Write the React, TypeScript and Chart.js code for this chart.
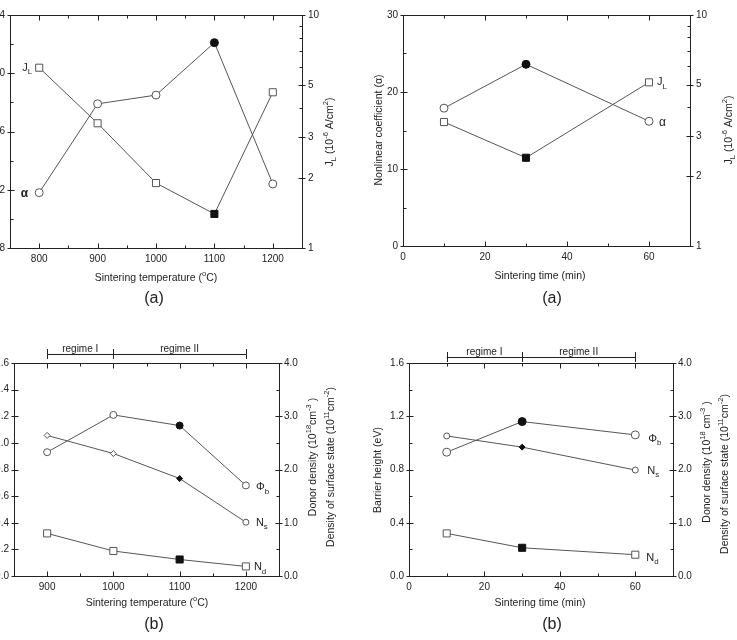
import React, { useEffect, useRef } from 'react';
import { Chart, registerables } from 'chart.js';

Chart.register(...registerables);

const FONT = '"Liberation Sans", Arial, Helvetica, sans-serif';
const INK = '#222';
const LINE = '#555';

// ---- (a) sintering temperature: nonlinear coefficient and leakage current
const TEMP_A = [800, 900, 1000, 1100, 1200];
const ALPHA_TEMP = [11.8, 17.9, 18.5, 22.1, 12.4];
const JL_TEMP = [5.94, 3.43, 1.9, 1.4, 4.66];

// ---- (a) sintering time
const TIME_A = [10, 30, 60];
const ALPHA_TIME = [17.9, 23.6, 16.2];
const JL_TIME = [3.44, 2.41, 5.11];

// ---- (b) sintering temperature: barrier height, surface states, donors
const TEMP_B = [900, 1000, 1100, 1200];
const PHI_TEMP = [0.93, 1.21, 1.13, 0.68];
const NS_TEMP = [2.64, 2.3, 1.83, 1.01];
const ND_TEMP = [0.8, 0.47, 0.31, 0.18];

// ---- (b) sintering time
const TIME_B = [10, 30, 60];
const PHI_TIME = [0.93, 1.16, 1.06];
const NS_TIME = [2.63, 2.42, 1.99];
const ND_TIME = [0.8, 0.53, 0.4];

// ---- axis ticks
const TEMP_TICKS_A = [800, 900, 1000, 1100, 1200];
const TEMP_MINOR_A = [850, 950, 1050, 1150];
const TEMP_TICKS_B = [900, 1000, 1100, 1200];
const TEMP_MINOR_B = [950, 1050, 1150];
const TIME_TICKS = [0, 20, 40, 60];
const TIME_MINOR = [10, 30, 50];
const ALPHA_TICKS_TEMP = [8, 12, 16, 20, 24];
const ALPHA_MINOR_TEMP = [10, 14, 18, 22];
const ALPHA_TICKS_TIME = [0, 10, 20, 30];
const ALPHA_MINOR_TIME = [5, 15, 25];
const JL_TICKS = [1, 2, 3, 5, 10];
const JL_MINOR = [4, 6, 7, 8, 9];
const PHI_TICKS_TEMP = [0, 0.2, 0.4, 0.6, 0.8, 1.0, 1.2, 1.4, 1.6];
const PHI_TICKS_TIME = [0, 0.4, 0.8, 1.2, 1.6];
const PHI_MINOR_TIME = [0.2, 0.6, 1.0, 1.4];
const DENS_TICKS = [0, 1, 2, 3, 4];
const DENS_MINOR = [0.5, 1.5, 2.5, 3.5];

// regime boundaries
const REGIME_TEMP = [900, 1000, 1200];
const REGIME_TIME = [10, 30, 60];
const REGIME_NAMES = ['regime I', 'regime II'];

type Seg = [string, number?]; // 1 = superscript, -1 = subscript

function drawRich(
  ctx: CanvasRenderingContext2D,
  segs: Seg[],
  x: number,
  y: number,
  size: number,
  align: 'left' | 'center' | 'right' = 'center',
  rot = false,
  bold = false
) {
  ctx.save();
  ctx.translate(x, y);
  if (rot) ctx.rotate(-Math.PI / 2);
  const small = size * 0.72;
  const font = (s: number) => `${bold ? 'bold ' : ''}${s}px ${FONT}`;
  let w = 0;
  for (const [t, k] of segs) {
    ctx.font = font(k ? small : size);
    w += ctx.measureText(t).width;
  }
  let cx = align === 'center' ? -w / 2 : align === 'right' ? -w : 0;
  ctx.textAlign = 'left';
  ctx.textBaseline = 'alphabetic';
  ctx.fillStyle = INK;
  const base = size * 0.36;
  for (const [t, k] of segs) {
    ctx.font = font(k ? small : size);
    const dy = k === 1 ? -size * 0.42 : k === -1 ? size * 0.3 : 0;
    ctx.fillText(t, cx, base + dy);
    cx += ctx.measureText(t).width;
  }
  ctx.restore();
}

interface AxisSpec {
  type?: 'linear' | 'logarithmic';
  min: number;
  max: number;
  major: number[];
  minor: number[];
  fmt: (v: number) => string;
  pad: number;
}

interface LabelSpec {
  segs: Seg[];
  ds: number;
  i: number;
  dx: number;
  dy: number;
  align: 'left' | 'right';
  size: number;
  bold?: boolean;
}

interface TitleSpec {
  segs: Seg[];
  x: number;
  y: number;
  size: number;
  rot?: boolean;
}

interface PanelSpec {
  box: { x: number; y: number; w: number; h: number };
  area: { l: number; t: number; r: number; b: number };
  x: AxisSpec;
  y: AxisSpec;
  yR: AxisSpec;
  datasets: any[];
  labels: LabelSpec[];
  titles: TitleSpec[];
  regime?: { y: number; marks: number[] };
}

function series(
  xs: number[],
  ys: number[],
  axis: string,
  styles: string[],
  radius: number,
  filled: number
) {
  return {
    data: xs.map((x, i) => ({ x, y: ys[i] })),
    yAxisID: axis,
    showLine: true,
    borderColor: LINE,
    borderWidth: 1,
    tension: 0,
    pointStyle: styles,
    pointRadius: radius,
    pointBorderWidth: 1,
    pointBackgroundColor: xs.map((_, i) => (i === filled ? '#111' : '#fff')),
    pointBorderColor: xs.map((_, i) => (i === filled ? '#111' : LINE)),
  };
}

const fill = (n: number, s: string) => Array.from({ length: n }, () => s);
const f1 = (v: number) => v.toFixed(1);
const f0 = (v: number) => String(v);

const TS = 10.5; // axis title size
const CAP = 16; // caption size

const JL_TITLE: Seg[] = [['J'], ['L', -1], [' (10'], ['-6', 1], [' A/cm'], ['2', 1], [')']];
const TEMP_TITLE: Seg[] = [['Sintering temperature ('], ['o', 1], ['C)']];
const TIME_TITLE: Seg[] = [['Sintering time (min)']];

const PANELS: PanelSpec[] = [
  {
    box: { x: -40, y: 0, w: 410, h: 310 },
    area: { l: 10, t: 15, r: 302, b: 248 },
    x: { min: 750, max: 1250, major: TEMP_TICKS_A, minor: TEMP_MINOR_A, fmt: f0, pad: 5 },
    y: { min: 8, max: 24, major: ALPHA_TICKS_TEMP, minor: ALPHA_MINOR_TEMP, fmt: f0, pad: 5 },
    yR: { type: 'logarithmic', min: 1, max: 10, major: JL_TICKS, minor: JL_MINOR, fmt: f0, pad: 6 },
    datasets: [
      series(TEMP_A, ALPHA_TEMP, 'y', fill(5, 'circle'), 4, 3),
      series(TEMP_A, JL_TEMP, 'yR', fill(5, 'rect'), 5, 3),
    ],
    labels: [
      { segs: [['J'], ['L', -1]], ds: 1, i: 0, dx: -7, dy: -1, align: 'right', size: 11 },
      { segs: [['α']], ds: 0, i: 0, dx: -11, dy: 0, align: 'right', size: 12, bold: true },
    ],
    titles: [
      { segs: TEMP_TITLE, x: 156, y: 277, size: TS },
      { segs: [['(a)']], x: 154, y: 297, size: CAP },
      { segs: JL_TITLE, x: 329, y: 132, size: TS, rot: true },
    ],
  },
  {
    box: { x: 370, y: 0, w: 367, h: 310 },
    area: { l: 403, t: 15, r: 690, b: 246 },
    x: { min: 0, max: 70, major: TIME_TICKS, minor: TIME_MINOR, fmt: f0, pad: 5 },
    y: { min: 0, max: 30, major: ALPHA_TICKS_TIME, minor: ALPHA_MINOR_TIME, fmt: f0, pad: 5 },
    yR: { type: 'logarithmic', min: 1, max: 10, major: JL_TICKS, minor: JL_MINOR, fmt: f0, pad: 6 },
    datasets: [
      series(TIME_A, ALPHA_TIME, 'y', fill(3, 'circle'), 4, 1),
      series(TIME_A, JL_TIME, 'yR', fill(3, 'rect'), 5, 1),
    ],
    labels: [
      { segs: [['J'], ['L', -1]], ds: 1, i: 2, dx: 8, dy: -1, align: 'left', size: 11 },
      { segs: [['α']], ds: 0, i: 2, dx: 10, dy: 0, align: 'left', size: 12 },
    ],
    titles: [
      { segs: TIME_TITLE, x: 540, y: 275, size: TS },
      { segs: [['(a)']], x: 552, y: 297, size: CAP },
      { segs: [['Nonlinear coefficient (α)']], x: 378, y: 130, size: TS, rot: true },
      { segs: JL_TITLE, x: 728, y: 130, size: TS, rot: true },
    ],
  },
  {
    box: { x: -40, y: 310, w: 410, h: 330 },
    area: { l: 14, t: 363, r: 279, b: 576 },
    x: { min: 850, max: 1250, major: TEMP_TICKS_B, minor: TEMP_MINOR_B, fmt: f0, pad: 5 },
    y: { min: 0, max: 1.6, major: PHI_TICKS_TEMP, minor: [], fmt: f1, pad: 5 },
    yR: { min: 0, max: 4, major: DENS_TICKS, minor: DENS_MINOR, fmt: f1, pad: 5 },
    datasets: [
      series(TEMP_B, PHI_TEMP, 'y', fill(4, 'circle'), 3.5, 2),
      series(TEMP_B, NS_TEMP, 'yR', ['rectRot', 'rectRot', 'rectRot', 'circle'], 3, 2),
      series(TEMP_B, ND_TEMP, 'yR', fill(4, 'rect'), 5, 2),
    ],
    labels: [
      { segs: [['Φ'], ['b', -1]], ds: 0, i: 3, dx: 10, dy: 1, align: 'left', size: 11 },
      { segs: [['N'], ['s', -1]], ds: 1, i: 3, dx: 10, dy: 0, align: 'left', size: 11 },
      { segs: [['N'], ['d', -1]], ds: 2, i: 3, dx: 8, dy: 0, align: 'left', size: 11 },
    ],
    titles: [
      { segs: TEMP_TITLE, x: 147, y: 602, size: TS },
      { segs: [['(b)']], x: 154, y: 623, size: CAP },
      { segs: [['Donor density (10'], ['18', 1], ['cm'], ['-3', 1], [' )']], x: 312, y: 457, size: TS, rot: true },
      { segs: [['Density of surface state (10'], ['11', 1], ['cm'], ['-2', 1], [')']], x: 330, y: 467, size: TS, rot: true },
    ],
    regime: { y: 354, marks: REGIME_TEMP },
  },
  {
    box: { x: 370, y: 310, w: 367, h: 330 },
    area: { l: 409, t: 363, r: 673, b: 576 },
    x: { min: 0, max: 70, major: TIME_TICKS, minor: TIME_MINOR, fmt: f0, pad: 5 },
    y: { min: 0, max: 1.6, major: PHI_TICKS_TIME, minor: PHI_MINOR_TIME, fmt: f1, pad: 5 },
    yR: { min: 0, max: 4, major: DENS_TICKS, minor: DENS_MINOR, fmt: f1, pad: 5 },
    datasets: [
      series(TIME_B, PHI_TIME, 'y', fill(3, 'circle'), 4, 1),
      series(TIME_B, NS_TIME, 'yR', ['circle', 'rectRot', 'circle'], 3, 1),
      series(TIME_B, ND_TIME, 'yR', fill(3, 'rect'), 5, 1),
    ],
    labels: [
      { segs: [['Φ'], ['b', -1]], ds: 0, i: 2, dx: 13, dy: 3, align: 'left', size: 11 },
      { segs: [['N'], ['s', -1]], ds: 1, i: 2, dx: 12, dy: 0, align: 'left', size: 11 },
      { segs: [['N'], ['d', -1]], ds: 2, i: 2, dx: 11, dy: 2, align: 'left', size: 11 },
    ],
    titles: [
      { segs: TIME_TITLE, x: 540, y: 602, size: TS },
      { segs: [['(b)']], x: 552, y: 623, size: CAP },
      { segs: [['Barrier height (eV)']], x: 377, y: 470, size: TS, rot: true },
      { segs: [['Donor density (10'], ['18', 1], [' cm'], ['-3', 1], [' )']], x: 706, y: 462, size: TS, rot: true },
      { segs: [['Density of surface state (10'], ['11', 1], ['cm'], ['-2', 1], [')']], x: 724, y: 474, size: TS, rot: true },
    ],
    regime: { y: 357, marks: REGIME_TIME },
  },
];

function decorPlugin(p: PanelSpec) {
  return {
    id: 'decor',
    afterDraw(chart: any) {
      const ctx: CanvasRenderingContext2D = chart.ctx;
      const a = chart.chartArea;
      const sx = chart.scales.x;
      const sy = chart.scales.y;
      const sr = chart.scales.yR;
      const ox = p.box.x;
      const oy = p.box.y;
      const L = Math.round(a.left) + 0.5;
      const R = Math.round(a.right) + 0.5;
      const T = Math.round(a.top) + 0.5;
      const B = Math.round(a.bottom) + 0.5;
      ctx.save();
      ctx.strokeStyle = INK;
      ctx.lineWidth = 1;
      ctx.strokeRect(L, T, R - L, B - T);
      ctx.beginPath();
      const hline = (x0: number, x1: number, y: number) => {
        const yy = Math.round(y) + 0.5;
        ctx.moveTo(x0, yy);
        ctx.lineTo(x1, yy);
      };
      const vline = (x: number, y0: number, y1: number) => {
        const xx = Math.round(x) + 0.5;
        ctx.moveTo(xx, y0);
        ctx.lineTo(xx, y1);
      };
      for (const v of p.x.major) {
        const x = sx.getPixelForValue(v);
        vline(x, B, B - 5);
        vline(x, T, T + 5);
      }
      for (const v of p.x.minor) {
        const x = sx.getPixelForValue(v);
        vline(x, B, B - 3);
        vline(x, T, T + 3);
      }
      for (const v of p.y.major) hline(L - 3, L + 4, sy.getPixelForValue(v));
      for (const v of p.y.minor) hline(L, L + 3, sy.getPixelForValue(v));
      for (const v of p.yR.major) hline(R - 4, R + 3, sr.getPixelForValue(v));
      for (const v of p.yR.minor) hline(R - 3, R, sr.getPixelForValue(v));
      ctx.stroke();

      if (p.regime) {
        const ry = p.regime.y - oy;
        const xs = p.regime.marks.map((m) => sx.getPixelForValue(m));
        ctx.beginPath();
        hline(xs[0], xs[xs.length - 1], ry);
        for (const x of xs) vline(x, ry - 5, ry + 5);
        ctx.stroke();
        for (let i = 0; i < REGIME_NAMES.length; i++) {
          drawRich(ctx, [[REGIME_NAMES[i]]], (xs[i] + xs[i + 1]) / 2, ry - 6, 10);
        }
      }

      for (const lb of p.labels) {
        const pt = chart.getDatasetMeta(lb.ds).data[lb.i];
        drawRich(ctx, lb.segs, pt.x + lb.dx, pt.y + lb.dy, lb.size, lb.align, false, !!lb.bold);
      }
      for (const t of p.titles) {
        drawRich(ctx, t.segs, t.x - ox, t.y - oy, t.size, 'center', !!t.rot);
      }
      ctx.restore();
    },
  };
}

function axisOptions(s: AxisSpec, position: string, size: number, horizontal: boolean) {
  return {
    type: s.type || 'linear',
    position,
    min: s.min,
    max: s.max,
    grid: { display: false, drawTicks: false, tickLength: 0 },
    border: { display: false },
    ticks: {
      autoSkip: false,
      maxRotation: 0,
      padding: s.pad,
      color: INK,
      font: { family: FONT, size: 10 },
      callback: (v: number) => s.fmt(Number(v)),
    },
    afterBuildTicks: (scale: any) => {
      scale.ticks = s.major.map((v) => ({ value: v }));
    },
    afterFit: (scale: any) => {
      if (horizontal) scale.height = size;
      else scale.width = size;
    },
  };
}

function buildConfig(p: PanelSpec): any {
  const { box, area } = p;
  const leftW = area.l - box.x;
  const rightW = box.x + box.w - area.r;
  const bottomH = box.y + box.h - area.b;
  const topPad = area.t - box.y;
  return {
    type: 'scatter',
    data: { datasets: p.datasets },
    options: {
      responsive: false,
      animation: false,
      devicePixelRatio: 1,
      events: [],
      layout: { padding: { top: topPad, left: 0, right: 0, bottom: 0 } },
      plugins: {
        legend: { display: false },
        tooltip: { enabled: false },
        title: { display: false },
      },
      scales: {
        x: axisOptions(p.x, 'bottom', bottomH, true),
        y: axisOptions(p.y, 'left', leftW, false),
        yR: axisOptions(p.yR, 'right', rightW, false),
      },
    },
    plugins: [decorPlugin(p)],
  };
}

function Panel({ spec }: { spec: PanelSpec }) {
  const ref = useRef<HTMLCanvasElement>(null);
  useEffect(() => {
    const chart = new Chart(ref.current as HTMLCanvasElement, buildConfig(spec));
    return () => chart.destroy();
  }, [spec]);
  const { x, y, w, h } = spec.box;
  return (
    <canvas
      ref={ref}
      width={w}
      height={h}
      style={{ position: 'absolute', left: x, top: y, width: w, height: h }}
    />
  );
}

export default function App() {
  return (
    <div
      style={{
        position: 'fixed',
        left: 0,
        top: 0,
        width: 737,
        height: 640,
        overflow: 'hidden',
        background: '#fff',
      }}
    >
      {PANELS.map((p, i) => (
        <Panel key={i} spec={p} />
      ))}
    </div>
  );
}
